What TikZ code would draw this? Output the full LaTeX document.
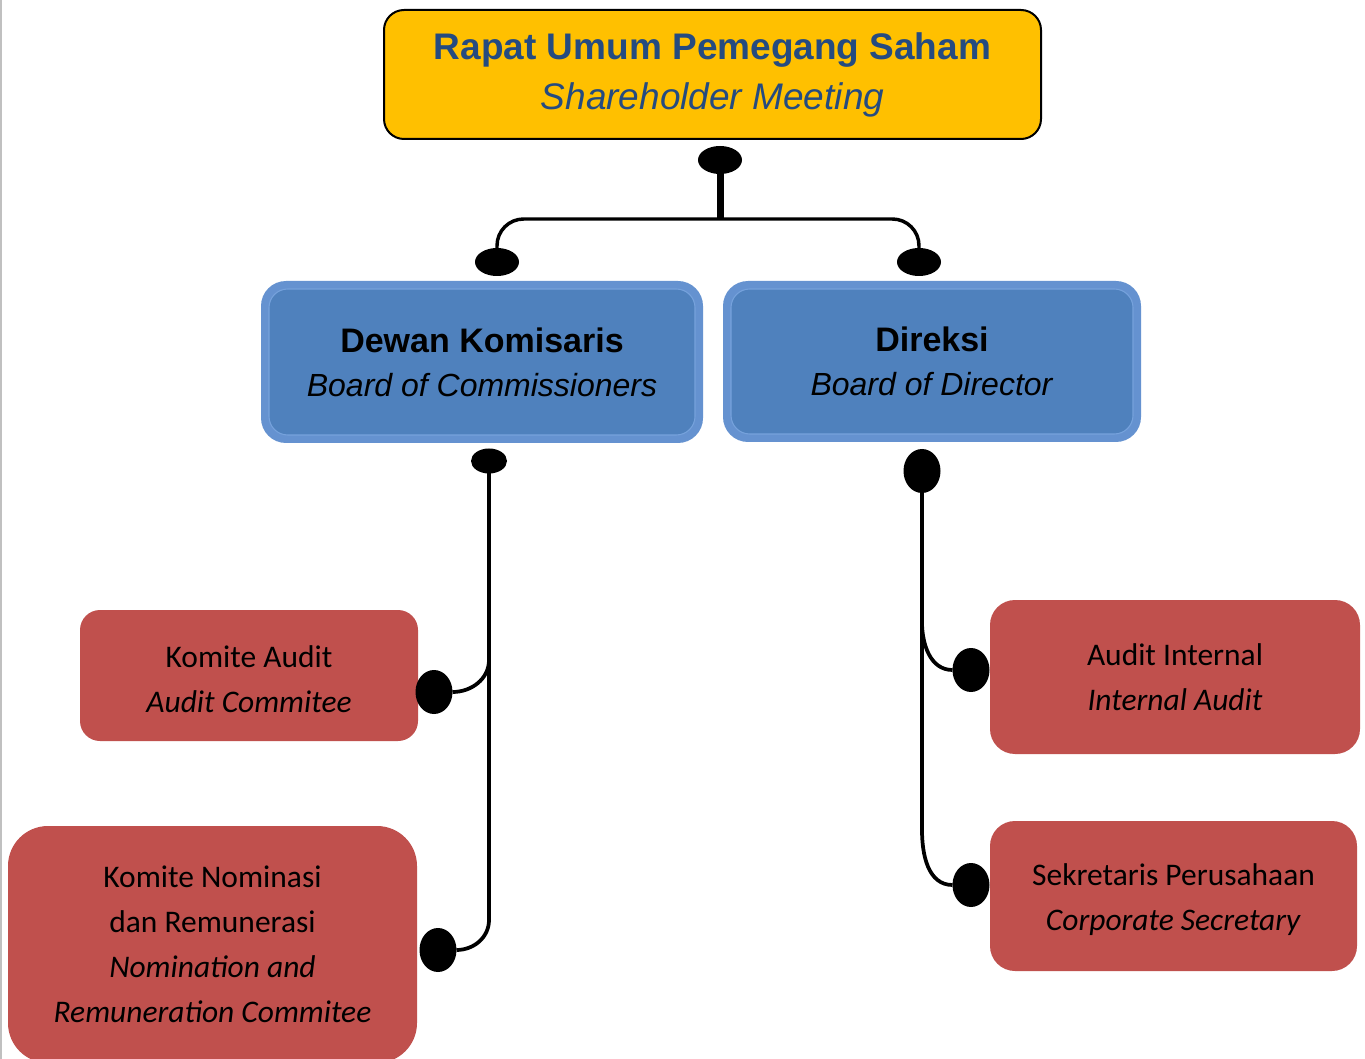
\documentclass[tikz,border=0pt]{standalone}
\usepackage{fontspec}
\setmainfont{Liberation Sans}
\newfontfamily\calib{Carlito}
\usetikzlibrary{shapes.geometric}
\definecolor{gold}{HTML}{FFC000}
\definecolor{titleblue}{HTML}{254B80}
\definecolor{bluefill}{HTML}{4F81BD}
\definecolor{bluering}{HTML}{6592D0}
\definecolor{blueline}{HTML}{76A2DC}
\definecolor{redfill}{HTML}{C0504D}
\definecolor{edgegray}{HTML}{C0C0C0}
\tikzset{
  topbox/.style={rectangle, rounded corners=15pt, fill=gold, draw=black, line width=1.5pt, inner sep=0pt, align=center,
     minimum width=492.75pt, minimum height=96.75pt, text=titleblue, font=\fontsize{27.75}{37.5}\selectfont},
  bluering/.style={rectangle, rounded corners=18.75pt, fill=bluering, inner sep=0pt},
  blueinner/.style={rectangle, rounded corners=14pt, fill=bluefill, draw=blueline, line width=0.8pt, inner sep=0pt, align=center,
     text=black, font=\fontsize{25}{33}\selectfont},
  redbox/.style={rectangle, fill=redfill, inner sep=0pt, align=center, text=black, font=\calib\fontsize{23.6}{33.75}\selectfont},
  dot/.style={ellipse, fill=black, inner sep=0pt, outer sep=0pt},
  conn/.style={line width=2.8pt, black},
}
\begin{document}
\begin{tikzpicture}[x=0.75pt, y=-0.75pt]
\clip (0,0) rectangle (1365,1059);
\useasboundingbox (0,0) rectangle (1365,1059);
\fill[white] (0,0) rectangle (1365,1059);
\draw[edgegray, line width=1.2pt] (1,0) -- (1,1059);

% top box
\node[topbox] (rups) at (712.5,74.5) {\textbf{Rapat Umum Pemegang Saham}\\\textit{Shareholder Meeting}};

% blue boxes
\node[bluering, minimum width=331.5pt, minimum height=121.5pt] (bocring) at (482,362) {};
\node[blueinner, minimum width=319.5pt, minimum height=109.5pt] (boc) at (482,362)
   {\fontsize{25.5}{33}\selectfont\textbf{Dewan Komisaris}\\\fontsize{24}{33}\selectfont\textit{Board of Commissioners}};
\node[bluering, minimum width=313.5pt, minimum height=120.75pt] (bodring) at (932,361.5) {};
\node[blueinner, minimum width=301.5pt, minimum height=108.75pt] (bod) at (932,361.5)
   {\fontsize{25.5}{33}\selectfont\textbf{Direksi}\\\fontsize{24}{33}\selectfont\textit{Board of Director}};

% red boxes
\node[redbox, rounded corners=15pt, minimum width=253.5pt, minimum height=98.25pt] (ka) at (249,675.5)
   {\rule{0pt}{21.5pt}Komite Audit\\\textit{Audit Commitee}};
\node[redbox, rounded corners=30pt, minimum width=306.75pt, minimum height=177.75pt] (kn) at (212.5,944.5)
   {Komite Nominasi\\dan Remunerasi\\\textit{Nomination and}\\\textit{Remuneration Commitee}};
\node[redbox, rounded corners=18.75pt, minimum width=277.5pt, minimum height=115.5pt] (ai) at (1175,677)
   {Audit Internal\\\textit{Internal Audit}};
\node[redbox, rounded corners=18.75pt, minimum width=275.25pt, minimum height=112.5pt] (sp) at (1173.5,896)
   {\rule{0pt}{21.5pt}Sekretaris Perusahaan\\\textit{Corporate Secretary}};

% dots
\node[dot, minimum width=33pt, minimum height=21pt] (e0) at (720,160) {};
\node[dot, minimum width=33pt, minimum height=21pt] (eL) at (497,262) {};
\node[dot, minimum width=33pt, minimum height=21pt] (eR) at (919,262) {};
\node[dot, minimum width=27pt, minimum height=18.75pt] (eLB) at (489,461) {};
\node[dot, minimum width=27.75pt, minimum height=33pt] (eRB) at (922,471) {};
\node[dot, minimum width=27.75pt, minimum height=33pt] (eKA) at (434,692) {};
\node[dot, minimum width=27.75pt, minimum height=33pt] (eKN) at (438,950) {};
\node[dot, minimum width=27.75pt, minimum height=33pt] (eAI) at (971,670) {};
\node[dot, minimum width=27.75pt, minimum height=33pt] (eSP) at (971,885) {};

% junctions
\coordinate (j0) at (720,219);
\coordinate (jL1) at (489,660);
\coordinate (jL2) at (489,920);
\coordinate (jR1) at (922,622);
\coordinate (jR2) at (922,830);

% connectors
\draw[line width=5.25pt] (e0.south) -- (j0);
\draw[conn, line width=2.6pt, rounded corners=20pt] (eL.north) |- (j0) -| (eR.north);
\draw[conn] (eLB.south) -- (jL2);
\draw[conn] (jL1) to[out=-90, in=0] (eKA.east);
\draw[conn] (jL2) to[out=-90, in=0] (eKN.east);
\draw[conn] (eRB.south) -- (jR2);
\draw[conn] (jR1) to[out=-90, in=180] (eAI.west);
\draw[conn] (jR2) to[out=-90, in=180] (eSP.west);
\end{tikzpicture}
\end{document}
